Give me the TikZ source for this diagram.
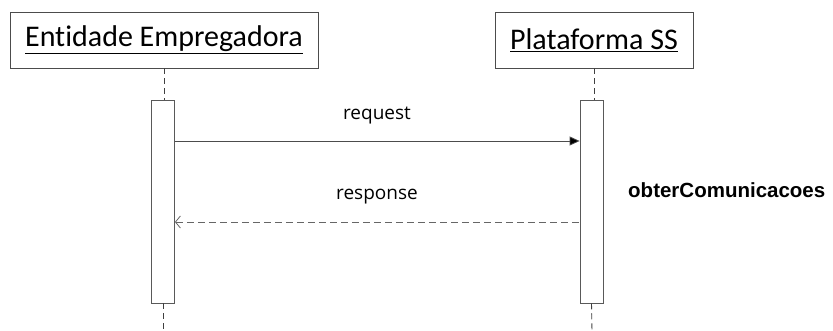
\documentclass[tikz,border=0pt]{standalone}
\usepackage{fontspec}
\setmainfont[Ligatures={NoCommon}]{Carlito}
\newfontfamily\msgfont{Open Sans}
\newfontfamily\opfont{Liberation Sans}
\usetikzlibrary{arrows.meta}
\usetikzlibrary{positioning}

\tikzset{
  actor/.style={draw=black!70, line width=0.8pt, fill=white, inner sep=0pt, font=\fontsize{30}{34}\selectfont},
  activation/.style={draw=black!65, line width=0.8pt, fill=white, minimum width=23pt, minimum height=203pt, inner sep=0pt},
  lifeline/.style={draw=black!75, line width=0.9pt, dash pattern=on 6pt off 4pt},
  msg/.style={draw=black!60, line width=0.8pt},
  msglabel/.style={font=\msgfont\fontsize{19}{22}\selectfont, text=black}
}

\begin{document}
\begin{tikzpicture}[x=1pt,y=-1pt]
            \useasboundingbox (0,0) rectangle (833,331);

            % Participants
            \node[actor, minimum width=308pt, minimum height=56pt] (ent) at (164,40) {\underline{Entidade Empregadora}};
            \node[actor, minimum width=198pt, minimum height=56pt] (ss) at (594,40) {\underline{Plataforma SS}};

            % Activations
            \node[activation] (entact) at (163,201.5) {};
            \node[activation] (ssact) at (591.5,201.5) {};

            % Lifelines
            \coordinate (entend) at (163,331);
            \coordinate (ssend) at (592,331);
            \draw[lifeline] (ent.south) -- (ent.south |- entact.north);
            \draw[lifeline] (ss.south) -- (ss.south |- ssact.north);
            \draw[lifeline] (entact.south) -- (entend);
            \draw[lifeline] (ssact.south) -- (ssend);

            % Messages
            \coordinate (reqy) at (0,141);
            \coordinate (resy) at (0,222);
            \draw[msg, -{Triangle[length=10pt, width=9pt, fill=black]}, draw=black!70] (entact.east |- reqy) -- (ssact.west |- reqy);
            \draw[msg, dash pattern=on 7pt off 4pt, {Straight Barb[length=5pt, width=12pt]}-] (entact.east |- resy) -- (ssact.west |- resy);
            \node[msglabel] (req) at (377,116) {request};
            \node[msglabel] (res) at (377,197) {response};

            % Operation
            \node[font=\opfont\bfseries\fontsize{20.5}{24}\selectfont, anchor=west, inner sep=0pt] (op) at (628,190) {obterComunicacoes};
        \end{tikzpicture}
\end{document}
